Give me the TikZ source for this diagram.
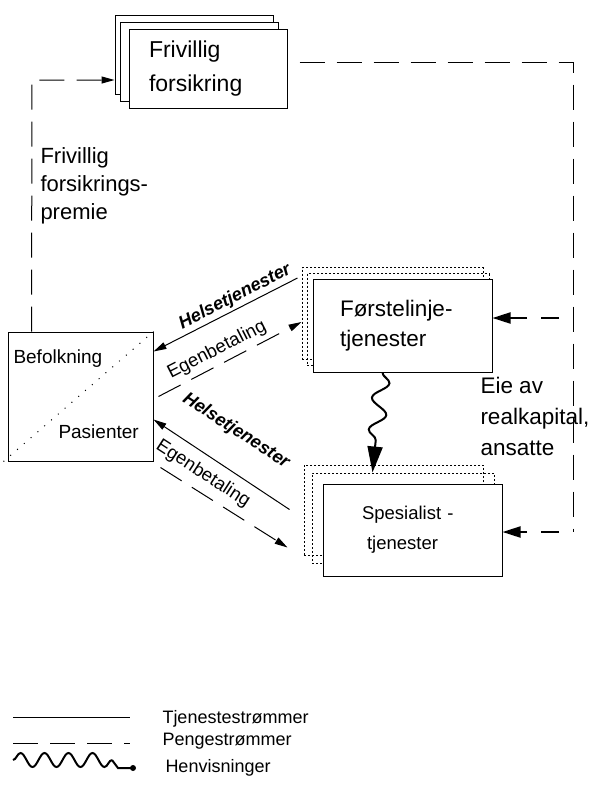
\documentclass[tikz,border=0pt]{standalone}
\usepackage{fontspec}
\setmainfont{Liberation Sans}
\usetikzlibrary{arrows.meta,calc,decorations.pathmorphing}

\begin{document}
\begin{tikzpicture}[x=0.5pt, y=-0.5pt, line width=0.5pt,
    stackbox/.style={rectangle, draw, fill=white, minimum width=79pt, minimum height=39.5pt},
    dotbox/.style={rectangle, draw, dash pattern=on 1pt off 1pt, minimum height=46pt},
    frontbox/.style={rectangle, draw, fill=white, minimum width=89.5pt, minimum height=46pt, align=left},
    money/.style={dash pattern=on 12.5pt off 6pt},
    tip/.style={-{Triangle[length=6.5pt, width=3.5pt]}},
    owntip/.style={-{Triangle[length=9pt, width=5.5pt]}, line width=1pt, dash pattern=on 9pt off 7pt, dash phase=9pt},
    bigtxt/.style={font=\fontsize{11.25}{15.5}\selectfont, align=left, inner sep=0pt},
    smalltxt/.style={font=\fontsize{9.5}{12}\selectfont, inner sep=0pt},
    hlbl/.style={font=\fontsize{9}{11}\selectfont\bfseries\itshape, inner sep=0pt},
    elbl/.style={font=\fontsize{9.25}{11}\selectfont, inner sep=0pt}
]
    \useasboundingbox (0,0) rectangle (590,788);

    % Frivillig forsikring (stack)
    \node[stackbox] (frivc) at (194,54.5) {};
    \node[stackbox] (frivb) at (199.5,61.5) {};
    \node[stackbox, bigtxt, inner xsep=10pt, text width=59pt, font=\fontsize{11.5}{17}\selectfont] (friv) at (208,69) {Frivillig\\forsikring};

    % Befolkning / Pasienter
    \node[draw, minimum width=72.5pt, minimum height=64.5pt] (bef) at (80.5,396.5) {};
    \draw[dash pattern=on 0.5pt off 4pt] ($(bef.south west)+(-4,0)$) -- (bef.north east);
    \node[smalltxt, anchor=base west] (befl) at (13,363) {Befolkning};
    \node[smalltxt, anchor=base west] (pas) at (58,438) {Pasienter};

    % Førstelinjetjenester
    \node[dotbox, minimum width=90.5pt] (fd1) at (392.5,313.5) {};
    \node[dotbox, minimum width=91pt] (fd2) at (398,319.5) {};
    \node[frontbox, minimum height=46.5pt, inner xsep=13.5pt, text width=62.5pt, font=\fontsize{11.25}{15}\selectfont] (forst) at (402.5,325.5) {Førstelinje-\\tjenester};

    % Spesialisttjenester
    \node[dotbox, minimum width=89.5pt, minimum height=45pt] (sd1) at (393.5,510) {};
    \node[dotbox, minimum width=91pt, minimum height=45pt] (sd2) at (403,518) {};
    \node[frontbox, inner xsep=19.5pt, text width=50.5pt, font=\fontsize{9.25}{15}\selectfont] (spes) at (412.5,530) {Spesialist -\\\hspace*{2.5pt}tjenester};

    % Premie
    \coordinate (premA) at (32,80);
    \draw[money, tip] ($(bef.north west)+(24,0)$) -- (premA) -- (premA -| frivc.west);
    \node[bigtxt, anchor=north west, font=\fontsize{11}{14}\selectfont] (premie) at (40,147) {Frivillig\\forsikrings-\\premie};

    % Eie av realkapital
    \coordinate (kapN) at (573,62);
    \coordinate (kapM) at (573,318);
    \coordinate (kapS) at (573,532);
    \draw[money, dash phase=12.5pt] (friv.east |- kapN) -- (kapN) -- (kapS);
    \draw[owntip] (kapM) -- (kapM -| forst.east);
    \draw[owntip] (kapS) -- (kapS -| spes.east);
    \node[bigtxt, anchor=north west] (eie) at (480,377) {Eie av\\realkapital,\\ansatte};

    % Tjenester og betaling
    \draw[tip] ($(fd1.north west)+(-4,11)$) -- ($(bef.north east)+(0,20)$);
    \draw[tip, money] ($(bef.east)+(5,0)$) -- ($(fd1.north west)+(0,55)$);
    \draw[tip] ($(sd1.north west)+(-14,45)$) -- ($(bef.north east)+(0,88)$);
    \draw[tip, money] ($(bef.south east)+(7,6)$) -- ($(sd1.north west)+(-16,83)$);
    \node[hlbl, rotate=27] (hel1) at (235,297) {Helsetjenester};
    \node[elbl, rotate=27] (egen1) at (217,350) {Egenbetaling};
    \node[hlbl, rotate=-33] (hel2) at (236,431) {Helsetjenester};
    \node[elbl, rotate=-33] (egen2) at (203,474) {Egenbetaling};

    % Henvisning
    \draw[-{Triangle[length=13pt, width=7.5pt]}, line width=1pt, decorate,
        decoration={snake, amplitude=4pt, segment length=16pt, post length=13pt}]
        ($(forst.south)+(-20,0)$) -- ($(sd2.north west)+(61,0)$);

    % Legend
    \draw (13,717) -- (130,717);
    \draw[money] (13,743) -- (130,743);
    \draw[line width=1pt, decorate, decoration={snake, amplitude=3.5pt, segment length=12pt}] (13,760) -- (112,760);
    \draw[line width=1pt] (112,760) -- (118,768) -- (133,768);
    \fill (133,768) circle[radius=1.5pt];
    \node[smalltxt, anchor=base west, font=\fontsize{9}{11}\selectfont] (lg1) at (162,723) {Tjenestestrømmer};
    \node[smalltxt, anchor=base west, font=\fontsize{9}{11}\selectfont] (lg2) at (162,745) {Pengestrømmer};
    \node[smalltxt, anchor=base west, font=\fontsize{9}{11}\selectfont] (lg3) at (165,772) {Henvisninger};
\end{tikzpicture}
\end{document}
